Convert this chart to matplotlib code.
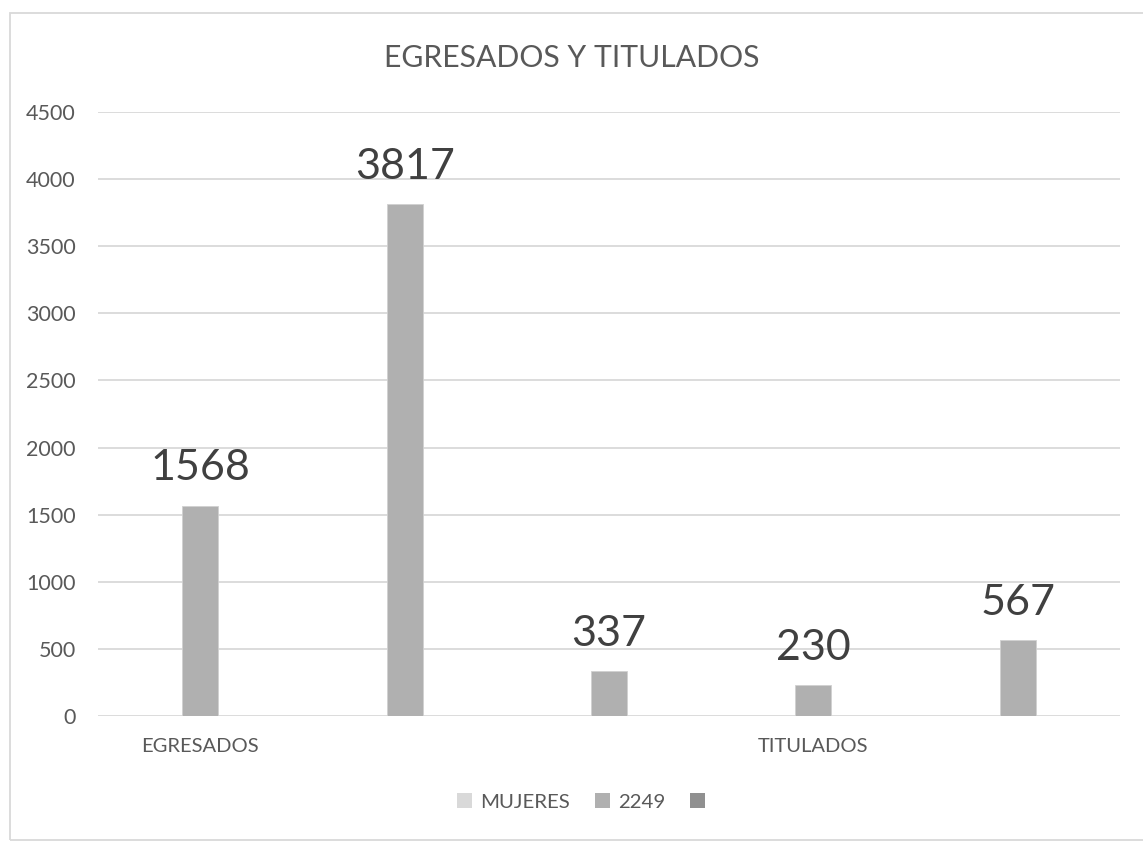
import matplotlib
matplotlib.use("Agg")
import matplotlib.pyplot as plt
from matplotlib.patches import Patch, Rectangle

categories = ["EGRESADOS", "", "", "TITULADOS", ""]
values = [1568, 3817, 337, 230, 567]
legend_labels = ["MUJERES", "2249", ""]
title = "EGRESADOS Y TITULADOS"
yticks = [0, 500, 1000, 1500, 2000, 2500, 3000, 3500, 4000, 4500]

plt.rcParams['font.family'] = ['Lato', 'DejaVu Sans']

fig = plt.figure(figsize=(11.43, 8.46), dpi=100)
ax = fig.add_axes([98/1143, 1-716/846, (1120-98)/1143, (716-112)/846])

x = list(range(len(categories)))
ax.bar(x, values, width=0.176, color="#B0B0B0", edgecolor="#D0D0D0", linewidth=0.6, zorder=3)
for xi, v in zip(x, values):
    ax.annotate(str(v), (xi, v), xytext=(0, 13), textcoords="offset points",
                ha="center", va="bottom", fontsize=31, color="#404040")

ax.set_xlim(-0.5, len(categories)-0.5)
ax.set_ylim(0, 4500)
ax.set_yticks(yticks)
ax.set_yticklabels([str(t) for t in yticks])
ax.set_xticks(x)
ax.set_xticklabels(categories)
ax.tick_params(axis='both', length=0, labelcolor="#595959")
ax.tick_params(axis='y', pad=16, labelsize=15.5)
ax.tick_params(axis='x', pad=16, labelsize=14.5)
ax.grid(axis='y', color="#D9D9D9", linewidth=1.3, zorder=0)
for s in ax.spines.values():
    s.set_visible(False)

fig.text(0.5, 1-58/846, title, ha="center", va="center", fontsize=21.7, color="#595959")

handles = [Patch(facecolor="#D9D9D9"), Patch(facecolor="#B0B0B0"), Patch(facecolor="#909090")]
fig.legend(handles, legend_labels, loc="center", bbox_to_anchor=(585/1143, 1-802/846), ncol=3,
           frameon=False, fontsize=14.7, labelcolor="#595959", handlelength=0.75, handleheight=0.75,
           handletextpad=0.4, columnspacing=1.2)

fig.patches.append(Rectangle((10/1143, 1-840/846), 1.2, (840-13)/846, transform=fig.transFigure,
                             fill=False, edgecolor="#D9D9D9", linewidth=1.3))

fig.savefig("out.png", dpi=100)
